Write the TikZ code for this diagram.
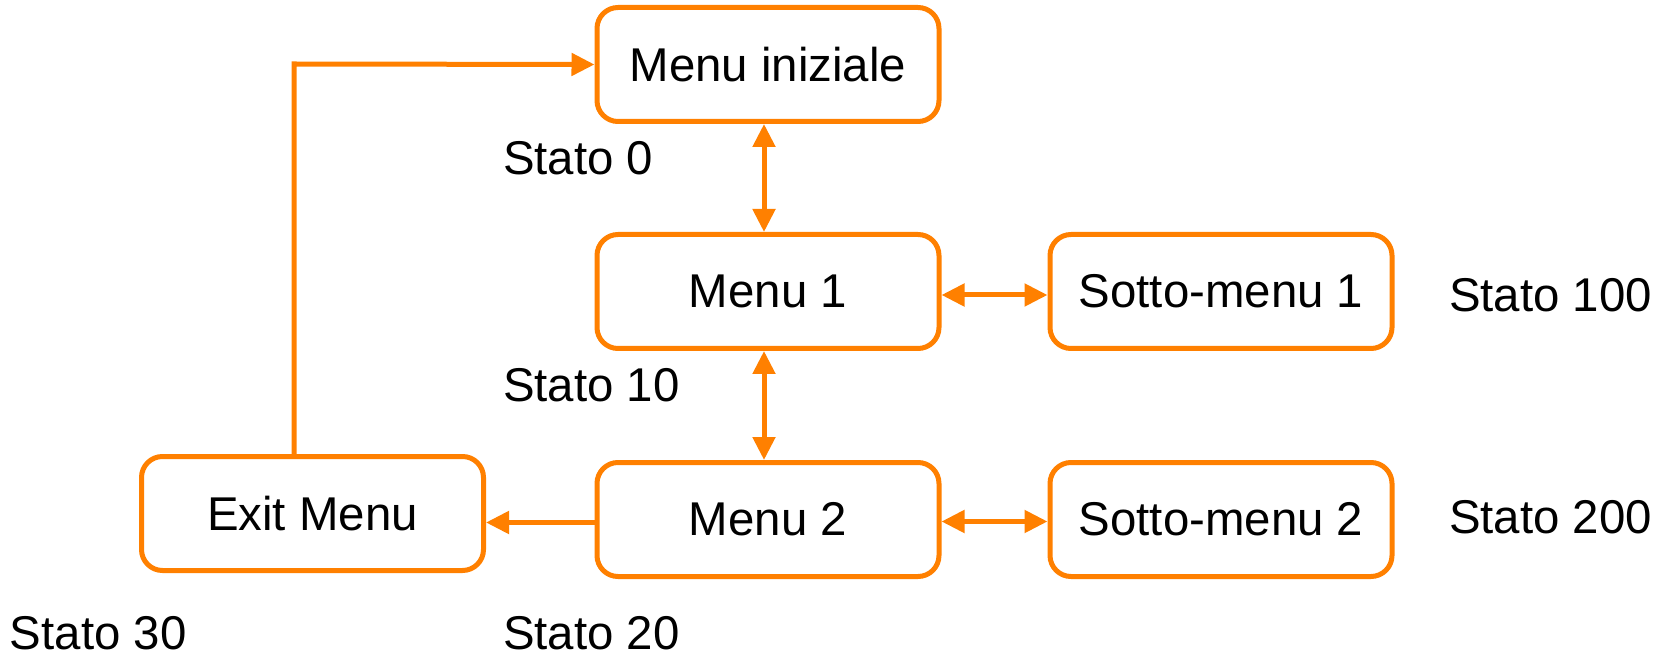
\documentclass[tikz,border=0pt]{standalone}
\usepackage{fontspec}
\setmainfont{Liberation Sans}
\usetikzlibrary{arrows.meta}

\begin{document}
\begin{tikzpicture}[x=0.5pt,y=0.5pt,
  every node/.style={font=\fontsize{23.7pt}{28pt}\selectfont},
  menubox/.style={draw=lineColor,line width=2.5pt,rounded corners=10.5pt,fill=white,
    minimum width=171pt,minimum height=57pt,inner sep=0pt},
  stato/.style={anchor=base west,inner sep=0pt,outer sep=0pt},
  link/.style={draw=lineColor,line width=2.5pt,-{Triangle[length=11.5pt,width=11pt]}},
  twoway/.style={link,{Triangle[length=11.5pt,width=11pt]}-{Triangle[length=11.5pt,width=11pt]}}]
\definecolor{lineColor}{RGB}{255,128,0}
\path[use as bounding box,fill=white] (0,0) rectangle (1665,654);

% menu states
\node[menubox] (ini)  at ( 768.0,589.5) {Menu iniziale};
\node[menubox] (m1)   at ( 768.0,362.5) {Menu 1};
\node[menubox] (s1)   at (1221.0,362.5) {Sotto-menu 1};
\node[menubox] (m2)   at ( 768.0,134.5) {Menu 2};
\node[menubox] (s2)   at (1221.0,134.5) {Sotto-menu 2};
\node[menubox] (exit) at ( 312.5,140.5) {Exit Menu};

% state numbers
\node[stato] (st0)   at ( 503,479) {Stato 0};
\node[stato] (st10)  at ( 503,252) {Stato 10};
\node[stato] (st100) at (1449,342) {Stato 100};
\node[stato] (st200) at (1449,121) {Stato 200};
\node[stato] (st30)  at (  10,  5) {Stato 30};
\node[stato] (st20)  at ( 503,  5) {Stato 20};

% transitions
\draw[twoway] ([xshift=-2pt]ini.south) -- ([xshift=-2pt]m1.north);
\draw[twoway] ([xshift=-2pt]m1.south) -- ([xshift=-2pt]m2.north);
\draw[twoway] ([yshift=-1.75pt]m1.east) -- ([yshift=-1.75pt]s1.west);
\draw[twoway] ([yshift=-1pt]m2.east) -- ([yshift=-1pt]s2.west);
\draw[link] ([yshift=-1.5pt]m2.west) -- ([yshift=-1.5pt]exit.east |- m2.west);
\coordinate (back) at (294,590);
\draw[link] (exit.north -| back) -- (back) -- (ini.west);
\end{tikzpicture}
\end{document}
